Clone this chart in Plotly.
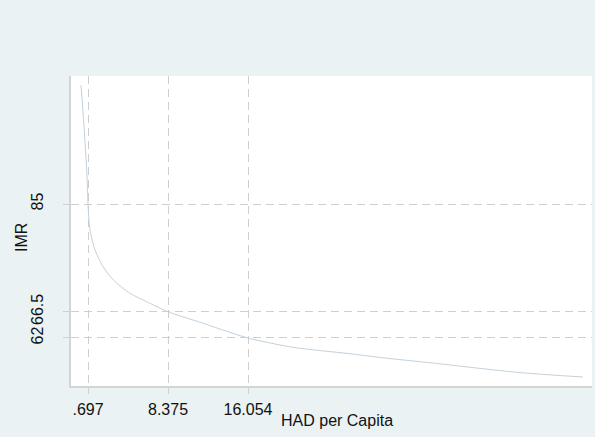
import plotly.graph_objects as go

# Data
had_per_capita = [0.025, 0.313, 0.601, 0.697, 0.89, 1.37, 2.16, 3.12, 4.73, 6.33,
                  8.375, 11.28, 16.054, 20.37, 25.84, 29.0, 33.8, 41.9, 48.2]
imr = [105.4, 98.4, 89.8, 85.0, 80.5, 77.1, 74.2, 71.96, 69.67, 68.23,
       66.5, 64.8, 62.0, 60.4, 59.3, 58.6, 57.7, 56.1, 55.3]

x_tick_vals = [0.697, 8.375, 16.054]
x_tick_text = [".697", "8.375", "16.054"]
y_tick_vals = [62, 66.5, 85]
y_tick_text = ["62", "66.5", "85"]

x_title = "HAD per Capita"
y_title = "IMR"

FONT = "Liberation Sans, Arial, Helvetica, sans-serif"
BG = "#EAF2F3"
GRID = "#CFCFCF"
AXIS = "#D4D4D4"

fig = go.Figure()
fig.add_trace(go.Scatter(
    x=had_per_capita, y=imr, mode="lines",
    line=dict(color="#C3D1DC", width=1, shape="spline", smoothing=0.7),
    hoverinfo="x+y", showlegend=False,
))

fig.update_layout(
    width=595, height=437,
    margin=dict(l=71, r=3, t=76, b=51, autoexpand=False),
    paper_bgcolor=BG, plot_bgcolor="white",
    font=dict(family=FONT, size=16, color="#111111"),
    showlegend=False,
)

fig.update_xaxes(
    range=[-0.935, 49.07], automargin=False,
    tickmode="array", tickvals=x_tick_vals, ticktext=x_tick_text,
    ticks="outside", ticklen=6, tickcolor=GRID, tickwidth=1,
    showgrid=True, gridcolor=GRID, gridwidth=1, griddash="8px,5px",
    showline=True, linecolor=AXIS, linewidth=2,
    zeroline=False, ticklabelstandoff=2,
)
fig.update_yaxes(
    range=[53.76, 106.97], automargin=False,
    tickmode="array", tickvals=y_tick_vals, ticktext=y_tick_text,
    tickangle=-90,
    ticks="outside", ticklen=6, tickcolor=GRID, tickwidth=1,
    showgrid=True, gridcolor=GRID, gridwidth=1, griddash="8px,5px",
    showline=True, linecolor=AXIS, linewidth=2,
    zeroline=False, ticklabelstandoff=14,
)

fig.add_annotation(
    text=x_title, xref="paper", yref="paper", x=0.5106, y=-0.1097,
    xanchor="center", yanchor="middle", showarrow=False,
    font=dict(family=FONT, size=16, color="#111111"),
)
fig.add_annotation(
    text=y_title, xref="paper", yref="paper", x=-0.096, y=0.4806,
    xanchor="center", yanchor="middle", showarrow=False, textangle=-90,
    font=dict(family=FONT, size=16, color="#111111"),
)

fig.write_html(
    "out.html",
    config={"displayModeBar": False},
    post_script="document.body.style.margin='0';document.body.style.overflow='hidden';",
)
